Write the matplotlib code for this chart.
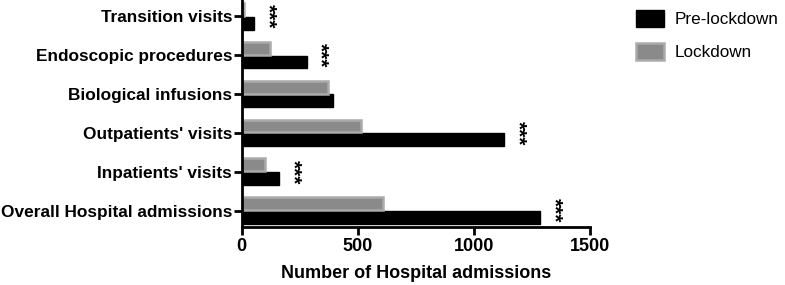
import matplotlib.pyplot as plt
import numpy as np
from matplotlib.patches import Patch

plt.rcParams['font.family'] = ['Liberation Sans', 'DejaVu Sans']

# Data (bottom to top)
categories = ["Overall Hospital admissions", "Inpatients' visits", "Outpatients' visits",
              "Biological infusions", "Endoscopic procedures", "Transition visits"]
pre_lockdown = [1283, 162, 1130, 394, 279, 52]
lockdown = [608, 100, 515, 369, 121, 10]
significant = [True, True, True, False, True, True]

y = np.arange(len(categories))
h = 0.33

fig, ax = plt.subplots(figsize=(7.85, 2.85), dpi=100)
fig.subplots_adjust(left=0.308, right=0.752, bottom=0.204, top=1.0)

ax.barh(y - h / 2 - 0.01, pre_lockdown, height=h, color='black', edgecolor='black', linewidth=1)
ax.barh(y + h / 2 + 0.01, lockdown, height=h, color='#8a8a8a', edgecolor='#ababab', linewidth=1.8)

for yi, p, l, s in zip(y, pre_lockdown, lockdown, significant):
    if s:
        ax.annotate('***', xy=(max(p, l), yi), xytext=(10, 0), textcoords='offset points',
                    rotation=270, ha='center', va='center', fontsize=15, fontweight='bold')

ax.set_xlim(0, 1500)
ax.set_ylim(-0.42, len(categories) - 0.58)
ax.set_xticks([0, 500, 1000, 1500])
ax.set_yticks(y)
ax.set_yticklabels(categories, fontsize=12.4, fontweight='bold')
for lab in ax.get_xticklabels():
    lab.set_fontweight('bold')
    lab.set_fontsize(13)
ax.set_xlabel('Number of Hospital admissions', fontsize=13, fontweight='bold', labelpad=7)

for side in ['top', 'right']:
    ax.spines[side].set_visible(False)
for side in ['left', 'bottom']:
    ax.spines[side].set_linewidth(2)
ax.tick_params(axis='both', width=2, length=6, direction='out', pad=2)
ax.tick_params(axis='y', pad=1)

handles = [Patch(facecolor='black', edgecolor='black', label='Pre-lockdown'),
           Patch(facecolor='#8a8a8a', edgecolor='#ababab', linewidth=1.8, label='Lockdown')]
fig.legend(handles=handles, loc='upper left', bbox_to_anchor=(0.797, 1.0), frameon=False,
           fontsize=12.3, handlelength=1.65, handleheight=1.1, handletextpad=0.6, labelspacing=0.95,
           borderaxespad=0.2)

plt.savefig('out.png', dpi=100)
